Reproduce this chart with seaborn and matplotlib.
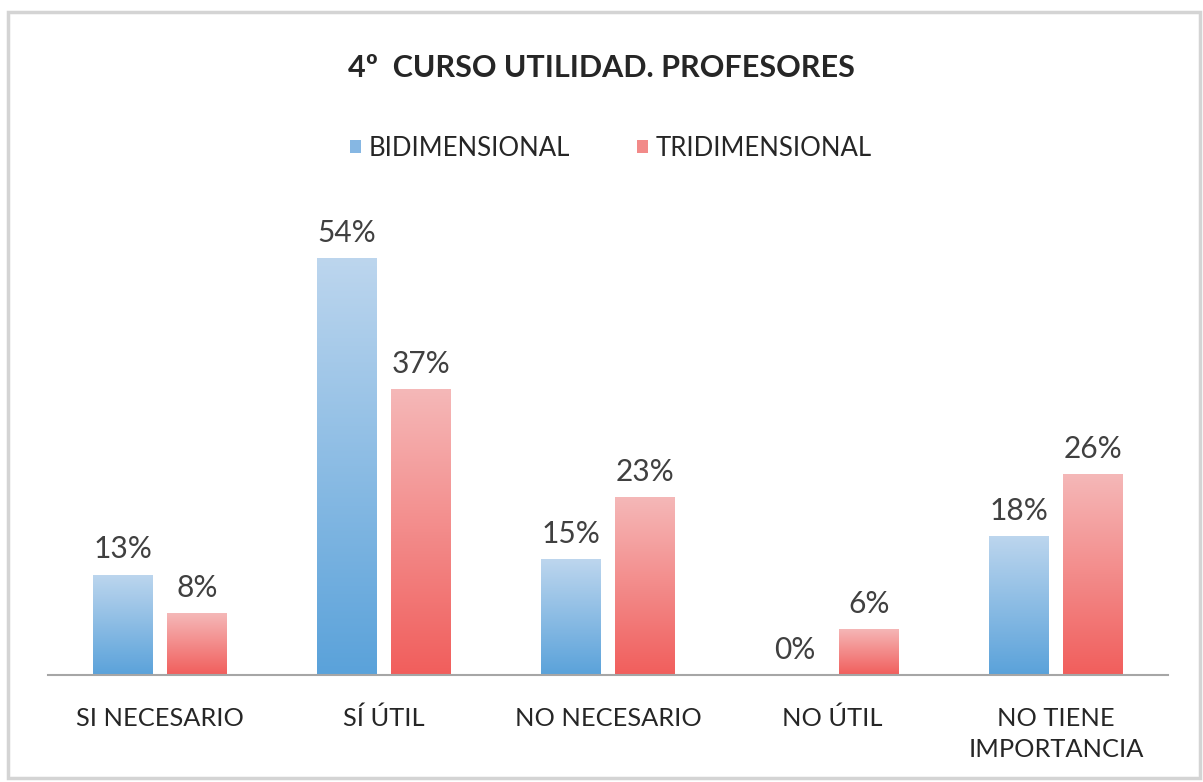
import numpy as np
import pandas as pd
import matplotlib
matplotlib.use("Agg")
import matplotlib.pyplot as plt
import matplotlib.colors as mcolors
from matplotlib.patches import Patch, Rectangle
import seaborn as sns

categories = ["SI NECESARIO", "SÍ ÚTIL", "NO NECESARIO", "NO ÚTIL", "NO TIENE\nIMPORTANCIA"]
series_names = ["BIDIMENSIONAL", "TRIDIMENSIONAL"]
bidimensional = [13, 54, 15, 0, 18]
tridimensional = [8, 37, 23, 6, 26]
title = "4º  CURSO UTILIDAD. PROFESORES"

df = pd.DataFrame({
    "cat": categories * 2,
    "serie": [series_names[0]] * len(categories) + [series_names[1]] * len(categories),
    "val": bidimensional + tridimensional,
})

sns.set_theme(style="white")
plt.rcParams["font.family"] = ["Lato", "DejaVu Sans"]

grad_colors = {
    series_names[0]: ("#bdd6ee", "#5aa2da"),
    series_names[1]: ("#f5b8b8", "#f15e5c"),
}
mid_colors = {series_names[0]: "#86b7e3", series_names[1]: "#f28a89"}

fig = plt.figure(figsize=(12.03, 7.82), dpi=100)
ax = fig.add_axes([48 / 1203, 107 / 782, 1120 / 1203, 475 / 782])

sns.barplot(data=df, x="cat", y="val", hue="serie", order=categories,
            hue_order=series_names, palette=mid_colors, width=0.66, gap=0.2,
            legend=False, ax=ax, edgecolor="none", linewidth=0)

ax.set_xlim(-0.5, 4.5)
ax.set_ylim(0, 61.5)

# vertical gradient fill on each bar
for cont, name in zip(ax.containers, series_names):
    ctop = np.array(mcolors.to_rgb(grad_colors[name][0]))
    cbot = np.array(mcolors.to_rgb(grad_colors[name][1]))
    t = np.linspace(0, 1, 256)[:, None, None]
    img = ctop * (1 - t) + cbot * t
    for p in cont.patches:
        h = p.get_height()
        if h <= 0:
            continue
        x0, y0, w = p.get_x(), p.get_y(), p.get_width()
        im = ax.imshow(img, extent=[x0, x0 + w, y0, y0 + h], origin="upper",
                       aspect="auto", zorder=p.get_zorder() + 0.1)
        im.set_clip_path(p)

for cont, vals in zip(ax.containers, [bidimensional, tridimensional]):
    ax.bar_label(cont, labels=[f"{v}%" for v in vals], padding=8,
                 fontsize=21.5, color="#404040")

ax.set_xlim(-0.5, 4.5)
ax.set_ylim(0, 61.5)
ax.set_xlabel("")
ax.set_ylabel("")
ax.set_yticks([])
ax.tick_params(axis="x", length=0, pad=23, labelsize=18.3, labelcolor="#262626")
for lbl in ax.get_xticklabels():
    lbl.set_linespacing(1.45)
for s in ["top", "right", "left"]:
    ax.spines[s].set_visible(False)
ax.spines["bottom"].set_color("#a6a6a6")
ax.spines["bottom"].set_linewidth(1.5)

fig.text(0.5, 1 - 68 / 782, title, ha="center", va="center",
         fontsize=22, fontweight="bold", color="#262626")

handles = [Patch(facecolor=mid_colors[n], edgecolor="none") for n in series_names]
fig.legend(handles, series_names, loc="center", bbox_to_anchor=(0.508, 1 - 148 / 782),
           ncol=2, frameon=False, handlelength=0.42, handleheight=0.42,
           handletextpad=0.3, columnspacing=2.6, fontsize=18.5,
           labelcolor="#262626")

fig.patches.append(Rectangle((8 / 1203, 4 / 782), 1192 / 1203, 766 / 782,
                             transform=fig.transFigure, fill=False,
                             edgecolor="#d4d4d4", linewidth=2.5))

fig.savefig("out.png", dpi=100, facecolor="white")
